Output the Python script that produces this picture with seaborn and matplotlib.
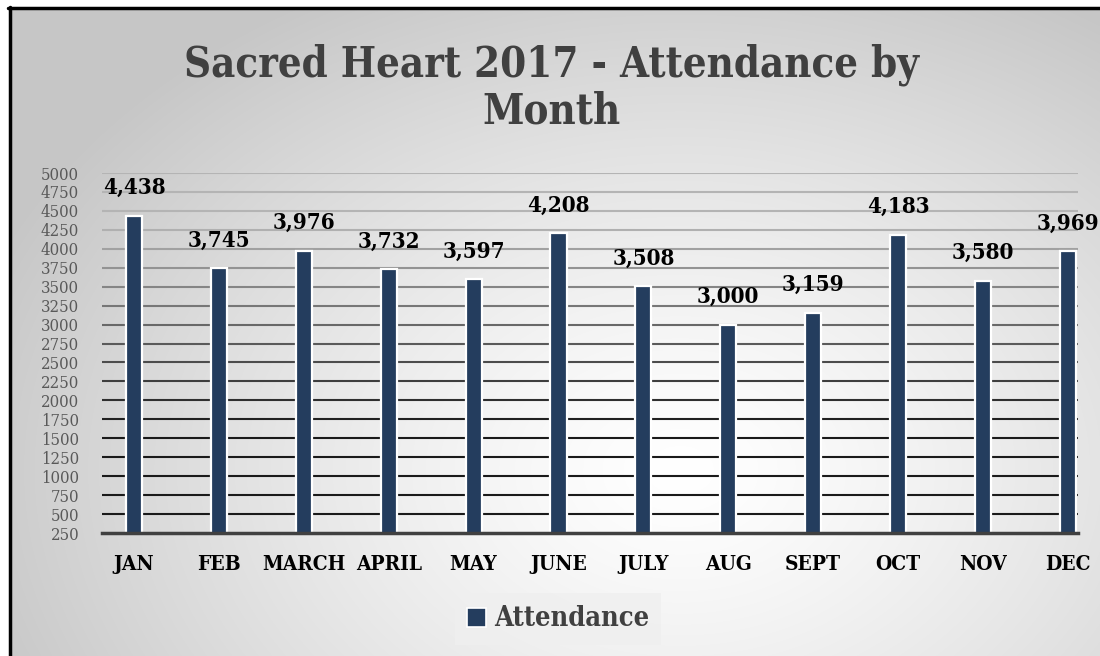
import numpy as np
import pandas as pd
import matplotlib
matplotlib.use("Agg")
import matplotlib.pyplot as plt
import seaborn as sns
from matplotlib.patches import Rectangle
from matplotlib.lines import Line2D
from matplotlib.colors import to_rgb

months = ["JAN", "FEB", "MARCH", "APRIL", "MAY", "JUNE", "JULY", "AUG", "SEPT", "OCT", "NOV", "DEC"]
attendance = [4438, 3745, 3976, 3732, 3597, 4208, 3508, 3000, 3159, 4183, 3580, 3969]
yticks = list(range(250, 5001, 250))
title = "Sacred Heart 2017 - Attendance by\nMonth"
series_name = "Attendance"

df = pd.DataFrame({"Month": months, series_name: attendance})

sns.set_theme(style="white")
SERIF = ["DejaVu Serif", "Liberation Serif"]
plt.rcParams["font.family"] = SERIF
plt.rcParams["font.stretch"] = "condensed"
STRETCH = "condensed"

W, H = 1100, 656
fig = plt.figure(figsize=(W / 100, H / 100), dpi=100)
fig.patch.set_facecolor("white")

# radial gradient background (inside frame)
bg = fig.add_axes([9 / W, 0, (W - 9) / W, 1 - 7 / H], zorder=-10)
yy, xx = np.mgrid[7:H, 9:W]
cx, cy = 680, 470
d = np.sqrt(((xx - cx) / 740.0) ** 2 + ((yy - cy) / 540.0) ** 2)
d = np.clip(d, 0, 1)
v = 1.0 - 0.22 * d ** 1.3
img = np.dstack([v, v, v])
bg.imshow(img, aspect="auto", extent=[0, 1, 0, 1], origin="upper")
bg.set_axis_off()

# plot axes: pixel positions
L, R, T, B = 102, 1078, 173, 533
ax = fig.add_axes([L / W, 1 - B / H, (R - L) / W, (B - T) / H])
ax.patch.set_alpha(0)

bar_color = "#243d5e"
sns.barplot(data=df, x="Month", y=series_name, color=bar_color, width=0.19,
            edgecolor="white", linewidth=1.6, saturation=1, ax=ax, zorder=3)

ax.set_ylim(250, 5000)
ax.set_xlim(-0.377, 11.12)
ax.set_yticks(yticks)
ax.set_yticklabels([str(t) for t in yticks], fontsize=12, color="#595959",
                   family=SERIF, fontstretch=STRETCH)
ax.set_xticks(range(len(months)))
ax.set_xticklabels(months, fontsize=15, fontweight="bold", color="black",
                   family=SERIF, fontstretch=STRETCH)
ax.tick_params(axis="x", length=0, pad=15)
ax.tick_params(axis="y", length=0, pad=16.5)
ax.set_xlabel("")
ax.set_ylabel("")

# gridlines with gradient of darkness
for t in yticks[1:]:
    f = (t - 500) / 4500.0
    c0 = np.array(to_rgb("#1a1a1a"))
    c1 = np.array(to_rgb("#b4b4b4"))
    f2 = np.clip((f - 0.25) / 0.6, 0, 1)
    col = c0 * (1 - f2) + c1 * f2
    ax.axhline(t, color=col, lw=1.5, zorder=1)

for s in ["top", "right", "left"]:
    ax.spines[s].set_visible(False)
ax.spines["bottom"].set_color("#404040")
ax.spines["bottom"].set_linewidth(2.5)
ax.spines["bottom"].set_zorder(4)

# data labels
for i, val in enumerate(attendance):
    ax.annotate(f"{val:,}", (i, val), xytext=(0, 12), textcoords="offset points",
                ha="center", va="bottom", fontsize=16, fontweight="bold",
                color="black", family=SERIF, fontstretch=STRETCH, zorder=5)

# title
fig.text(552 / W, 1 - 88 / H, title, ha="center", va="center", fontsize=30,
         fontweight="bold", color="#404040", family=SERIF, fontstretch=STRETCH,
         linespacing=1.15)

# legend
leg = ax.legend(handles=[Rectangle((0, 0), 1, 1, facecolor=bar_color, edgecolor="white", lw=1.2)],
                labels=[series_name], loc="center", bbox_to_anchor=(558 / W, 1 - 619 / H),
                bbox_transform=fig.transFigure, frameon=True, fancybox=False,
                prop={"family": SERIF, "weight": "bold", "size": 19.5, "stretch": STRETCH},
                handlelength=0.7, handleheight=0.7, handletextpad=0.3,
                borderpad=0.45, borderaxespad=0)
leg.get_frame().set_facecolor("#efefef")
leg.get_frame().set_edgecolor("none")
for t in leg.get_texts():
    t.set_color("#404040")

# outer frame: top and left only
fig.lines.append(Line2D([9.5 / W, 9.5 / W], [0, 1 - 7 / H], transform=fig.transFigure,
                        color="black", lw=2.5, zorder=20))
fig.lines.append(Line2D([8 / W, 1], [1 - 7.5 / H, 1 - 7.5 / H], transform=fig.transFigure,
                        color="black", lw=2.5, zorder=20))

fig.savefig("out.png", dpi=100)
